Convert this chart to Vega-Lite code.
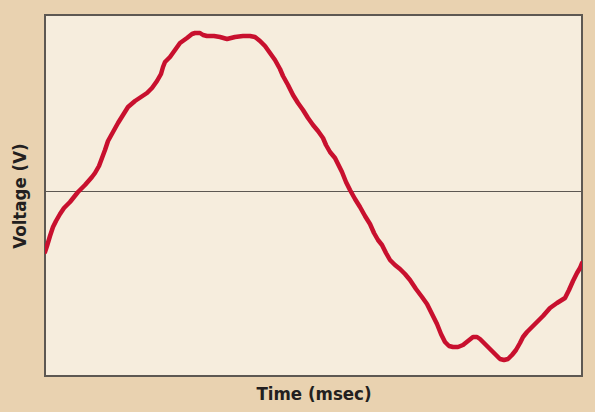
{
  "$schema": "https://vega.github.io/schema/vega-lite/v6.json",
  "width": 537,
  "height": 361,
  "autosize": {"type": "none"},
  "padding": {"left": 45, "top": 15, "right": 13, "bottom": 36},
  "background": "#e9d2b0",
  "config": {
    "view": {"fill": "#f6eddd", "stroke": "#5d5852", "strokeWidth": 2},
    "axis": {
      "domain": false, "ticks": false, "labels": false, "grid": false,
      "titleFont": "DejaVu Sans Condensed", "titleFontSize": 18.5, "titleFontWeight": "bold", "titleColor": "#231f20"
    }
  },
  "data": {"values": [
    {"t":0,"v":-60.5},{"t":2,"v":-54.5},{"t":5,"v":-44.5},{"t":8,"v":-35.5},{"t":11,"v":-29.5},
    {"t":15,"v":-22.5},{"t":19,"v":-16.5},{"t":25,"v":-10.5},{"t":33,"v":-0.5},{"t":40,"v":6.5},
    {"t":47,"v":14.5},{"t":50,"v":18.5},{"t":54,"v":25.5},{"t":57,"v":33.5},{"t":60,"v":41.5},
    {"t":63,"v":50.5},{"t":68,"v":59.5},{"t":73,"v":68.5},{"t":78,"v":76.5},{"t":83,"v":84.5},
    {"t":90,"v":90.5},{"t":96,"v":94.5},{"t":102,"v":98.5},{"t":107,"v":103.5},{"t":112,"v":110.5},
    {"t":116,"v":117.5},{"t":118,"v":124.5},{"t":120,"v":129.5},{"t":125,"v":134.5},{"t":130,"v":141.5},
    {"t":135,"v":148.5},{"t":142,"v":153.5},{"t":147,"v":157.5},{"t":150,"v":158.5},{"t":155,"v":158.5},
    {"t":158,"v":156.5},{"t":162,"v":155.5},{"t":169,"v":155.5},{"t":175,"v":154.5},{"t":182,"v":152.5},
    {"t":190,"v":154.5},{"t":198,"v":155.5},{"t":205,"v":155.5},{"t":210,"v":154.5},{"t":215,"v":150.5},
    {"t":220,"v":145.5},{"t":225,"v":138.5},{"t":230,"v":131.5},{"t":235,"v":122.5},{"t":238,"v":115.5},
    {"t":243,"v":106.5},{"t":248,"v":96.5},{"t":253,"v":88.5},{"t":258,"v":81.5},{"t":263,"v":73.5},
    {"t":268,"v":66.5},{"t":273,"v":60.5},{"t":278,"v":53.5},{"t":281,"v":46.5},{"t":285,"v":39.5},
    {"t":290,"v":33.5},{"t":293,"v":27.5},{"t":297,"v":19.5},{"t":301,"v":9.5},{"t":305,"v":1.5},
    {"t":310,"v":-7.5},{"t":315,"v":-15.5},{"t":320,"v":-24.5},{"t":325,"v":-32.5},{"t":329,"v":-41.5},
    {"t":333,"v":-48.5},{"t":337,"v":-53.5},{"t":341,"v":-61.5},{"t":345,"v":-68.5},{"t":350,"v":-73.5},
    {"t":355,"v":-77.5},{"t":360,"v":-82.5},{"t":365,"v":-88.5},{"t":371,"v":-97.5},{"t":377,"v":-105.5},
    {"t":382,"v":-112.5},{"t":387,"v":-122.5},{"t":392,"v":-132.5},{"t":396,"v":-142.5},{"t":400,"v":-150.5},
    {"t":404,"v":-154.5},{"t":408,"v":-155.5},{"t":413,"v":-155.5},{"t":418,"v":-153.5},{"t":423,"v":-149.5},
    {"t":428,"v":-145.5},{"t":432,"v":-145.5},{"t":435,"v":-147.5},{"t":440,"v":-152.5},{"t":445,"v":-157.5},
    {"t":450,"v":-162.5},{"t":455,"v":-167.5},{"t":459,"v":-168.5},{"t":463,"v":-167.5},{"t":467,"v":-163.5},
    {"t":471,"v":-158.5},{"t":475,"v":-151.5},{"t":478,"v":-145.5},{"t":482,"v":-140.5},{"t":487,"v":-135.5},
    {"t":492,"v":-130.5},{"t":498,"v":-124.5},{"t":505,"v":-116.5},{"t":512,"v":-111.5},{"t":520,"v":-106.5},
    {"t":524,"v":-98.5},{"t":528,"v":-89.5},{"t":532,"v":-81.5},{"t":535,"v":-76.5},{"t":537,"v":-71.5}
  ]},
  "layer": [
    {
      "mark": {"type": "rule", "color": "#5d5852", "strokeWidth": 1.2},
      "encoding": {"y": {"datum": 0, "type": "quantitative"}}
    },
    {
      "mark": {"type": "line", "color": "#c8102e", "strokeWidth": 4.5, "clip": true, "strokeJoin": "round", "strokeCap": "round"},
      "encoding": {
        "x": {"field": "t", "type": "quantitative", "scale": {"domain": [0, 537], "nice": false, "zero": false},
              "axis": {"title": "Time (msec)", "titlePadding": 8}},
        "y": {"field": "v", "type": "quantitative", "scale": {"domain": [-184.5, 176.5], "nice": false, "zero": false},
              "axis": {"title": "Voltage (V)", "titlePadding": 16}}
      }
    }
  ]
}
